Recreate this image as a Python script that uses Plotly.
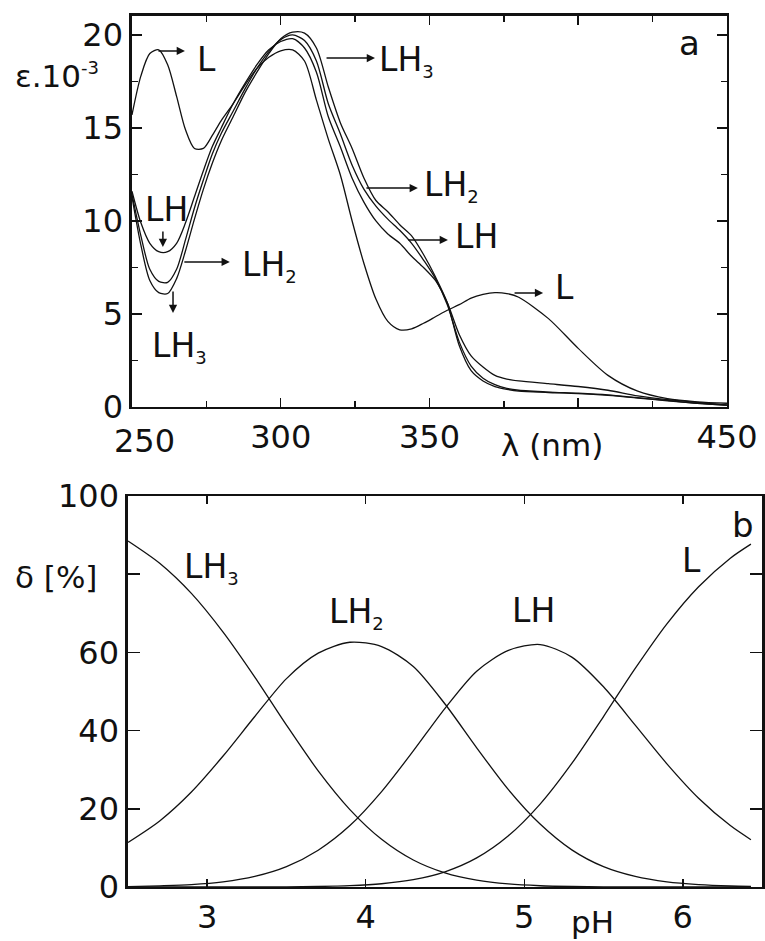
import plotly.graph_objects as go

# ---------------- Panel a : absorption spectra ----------------
wavelength = [250, 253, 256, 259, 262, 265, 268, 271, 274, 277, 280, 284, 288, 292, 296, 300, 304,
              308, 312, 316, 320, 324, 328, 332, 336, 340, 344, 348, 352, 356, 360, 364, 368, 372,
              376, 380, 390, 400, 410, 420, 430, 440, 450]
eps_L = [15.7, 17.8, 19.0, 19.2, 18.4, 16.7, 14.9, 13.9, 13.9, 14.6, 15.4, 16.3, 17.3, 18.2, 18.8, 19.15, 19.2,
         18.6, 16.5, 14.4, 12.5, 10.0, 7.7, 5.8, 4.6, 4.15, 4.2, 4.5, 4.85, 5.2, 5.5, 5.85, 6.05, 6.15,
         6.1, 5.9, 4.75, 3.15, 1.7, 0.85, 0.45, 0.28, 0.2]
eps_LH = [11.6, 9.9, 8.8, 8.35, 8.35, 8.8, 9.9, 11.3, 12.7, 14.0, 15.0, 16.3, 17.4, 18.4, 19.2, 19.65, 19.8,
          19.3, 18.0, 15.6, 14.0, 12.3, 11.0, 10.0, 9.3, 8.8, 8.1, 7.5, 6.8, 5.6, 3.9, 2.75, 2.15, 1.7,
          1.5, 1.4, 1.25, 1.1, 0.9, 0.6, 0.4, 0.25, 0.1]
eps_LH2 = [11.45, 9.2, 7.4, 6.75, 6.7, 7.4, 9.0, 10.7, 12.2, 13.6, 14.7, 15.9, 17.1, 18.2, 19.1, 19.75, 20.0,
           19.7, 18.6, 16.3, 14.7, 13.0, 11.7, 10.8, 10.1, 9.5, 8.8, 7.9, 6.9, 5.5, 3.5, 2.2, 1.55, 1.2,
           1.0, 0.9, 0.8, 0.74, 0.65, 0.5, 0.35, 0.2, 0.1]
eps_LH3 = [11.3, 8.7, 6.8, 6.15, 6.1, 6.9, 8.4, 10.1, 11.7, 13.1, 14.3, 15.6, 16.9, 18.0, 19.0, 19.8, 20.15,
           20.1, 19.3, 17.2, 15.3, 13.9, 12.3, 11.1, 10.5, 9.8, 9.2, 8.2, 7.0, 5.6, 3.3, 1.95, 1.4, 1.1,
           0.95, 0.85, 0.78, 0.72, 0.62, 0.48, 0.33, 0.2, 0.1]

# ---------------- Panel b : species distribution ----------------
pH = [2.5, 2.7, 2.9, 3.1, 3.3, 3.5, 3.7, 3.9, 4.1, 4.3, 4.5, 4.7, 4.9, 5.1, 5.3, 5.5, 5.7, 5.9, 6.1, 6.3, 6.43]
d_LH3 = [88.5, 82.8, 75.1, 65.2, 53.7, 41.4, 29.7, 19.8, 12.2, 6.9, 3.6, 1.75, 0.77, 0.31, 0.12, 0.04, 0.01, 0, 0, 0, 0]
d_LH2 = [11.4, 16.9, 24.3, 33.5, 43.6, 53.3, 59.8, 62.6, 61.5, 56.4, 46.8, 35.6, 24.9, 16.1, 9.5, 5.2, 2.7, 1.3, 0.6, 0.25, 0.15]
d_LH = [0.1, 0.3, 0.6, 1.3, 2.7, 5.2, 9.4, 15.7, 24.4, 34.8, 45.7, 55.2, 60.5, 62.0, 58.8, 51.2, 41.4, 31.5, 22.7, 15.7, 12.1]
d_L = [0, 0, 0, 0, 0, 0.04, 0.13, 0.34, 0.83, 1.87, 3.89, 7.44, 13.1, 21.2, 31.6, 43.6, 55.9, 67.3, 76.8, 84.1, 87.7]

x_ticks_a = [250, 300, 350, 400, 450]
x_ticktext_a = ["", "300", "350", "", "450"]
y_ticks_a = [0, 5, 10, 15, 20]
y_ticktext_a = ["0", "5", "10", "15", "20"]
x_ticks_b = [3, 4, 5, 6]
x_ticktext_b = ["3", "4", "5", "6"]
y_ticks_b = [0, 20, 40, 60, 80, 100]
y_ticktext_b = ["0", "20", "40", "60", "", "100"]

FONT = "DejaVu Sans, Liberation Sans, Arial, sans-serif"
INK = "#111111"
LW = 1.3
TICKSIZE = 32
LABELSIZE = 33

fig = go.Figure()
for ys in (eps_L, eps_LH, eps_LH2, eps_LH3):
    fig.add_trace(go.Scatter(x=wavelength, y=ys, mode="lines", xaxis="x", yaxis="y",
                             line=dict(color=INK, width=LW, shape="spline", smoothing=0.8),
                             showlegend=False, hoverinfo="skip"))
for ys in (d_LH3, d_LH2, d_LH, d_L):
    fig.add_trace(go.Scatter(x=pH, y=ys, mode="lines", xaxis="x2", yaxis="y2",
                             line=dict(color=INK, width=LW, shape="spline", smoothing=0.8),
                             showlegend=False, hoverinfo="skip"))

axis_common = dict(showline=True, linecolor=INK, linewidth=2.5, mirror="allticks",
                   ticks="inside", tickcolor=INK, tickwidth=1.5, showgrid=False, zeroline=False,
                   automargin=False,
                   tickfont=dict(family=FONT, size=TICKSIZE, color=INK))

fig.update_layout(
    width=765, height=941,
    margin=dict(l=0, r=0, t=0, b=0, autoexpand=False),
    paper_bgcolor="white", plot_bgcolor="white",
    xaxis=dict(domain=[0.1725, 0.9503], anchor="y", range=[250, 450],
               tickvals=x_ticks_a, ticktext=x_ticktext_a, ticklen=9,
               minor=dict(ticks="inside", ticklen=6, tickcolor=INK, tickwidth=1.5, dtick=25, tick0=250),
               **axis_common),
    yaxis=dict(domain=[0.5675, 0.983], anchor="x", range=[0, 21.02],
               tickvals=y_ticks_a, ticktext=y_ticktext_a, ticklen=10,
               minor=dict(ticks="inside", ticklen=6, tickcolor=INK, tickwidth=1.5, dtick=2.5, tick0=0),
               **axis_common),
    xaxis2=dict(domain=[0.1673, 0.9961], anchor="y2", range=[2.5, 6.5],
                tickvals=x_ticks_b, ticktext=x_ticktext_b, ticklen=8, **axis_common),
    yaxis2=dict(domain=[0.0574, 0.4729], anchor="x2", range=[0, 100],
                tickvals=y_ticks_b, ticktext=y_ticktext_b, ticklen=12, **axis_common),
)

def label(text, x, y, xref="x", yref="y", xanchor="left", size=LABELSIZE, yanchor="middle"):
    fig.add_annotation(text=text, x=x, y=y, xref=xref, yref=yref, showarrow=False,
                       xanchor=xanchor, yanchor=yanchor,
                       font=dict(family=FONT, size=size, color=INK))

def arrow(tail, head, xref="x", yref="y"):
    fig.add_annotation(text="", x=head[0], y=head[1], ax=tail[0], ay=tail[1],
                       xref=xref, yref=yref, axref=xref, ayref=yref, showarrow=True,
                       arrowhead=2, arrowsize=1.1, arrowwidth=1.5, arrowcolor=INK, standoff=0)

sub = lambda s: f"<sub><span style='font-size:18px'>{s}</span></sub>"

# Panel a labels
arrow((258.4, 19.14), (267.8, 19.14)); label("L", 271.2, 18.66)
arrow((314.9, 18.76), (331.7, 18.76)); label("LH" + sub("3"), 332.4, 18.6)
arrow((328.3, 11.77), (346.1, 11.77)); label("LH" + sub("2"), 347.5, 11.9)
arrow((342.4, 8.98), (356.2, 8.98)); label("LH", 357.9, 9.14)
arrow((378.1, 6.13), (388.2, 6.13)); label("L", 391.5, 6.4)
arrow((260.4, 9.52), (260.4, 8.6)); label("LH", 253.7, 10.6)
arrow((267.1, 7.8), (282.9, 7.8)); label("LH" + sub("2"), 286.3, 7.6)
arrow((263.8, 6.29), (263.8, 5.05)); label("LH" + sub("3"), 256.1, 3.2)

label("250", 0.1895, 0.531, xref="paper", yref="paper", xanchor="center", size=TICKSIZE)
label("a", 0.9007, 0.9543, xref="paper", yref="paper", xanchor="center", size=34)
label("ε.10<sup><span style='font-size:18px'>-3</span></sup>", 0.017, 0.92, xref="paper", yref="paper", size=31)
label("λ (nm)", 0.7216, 0.5271, xref="paper", yref="paper", xanchor="center", size=31)

# Panel b labels
label("LH" + sub("3"), 2.84, 81.5, xref="x2", yref="y2")
label("LH" + sub("2"), 3.756, 70.0, xref="x2", yref="y2")
label("LH", 4.91, 70.8, xref="x2", yref="y2")
label("L", 5.98, 83.6, xref="x2", yref="y2")
label("b", 0.9712, 0.4421, xref="paper", yref="paper", xanchor="center", size=34)
label("δ [%]", 0.017, 0.3868, xref="paper", yref="paper", size=31)
label("pH", 0.775, 0.0202, xref="paper", yref="paper", xanchor="center", size=31)

fig.write_html("out.html", config={"displayModeBar": False, "staticPlot": True},
               post_script="document.body.style.margin='0px';document.body.style.overflow='hidden';")
